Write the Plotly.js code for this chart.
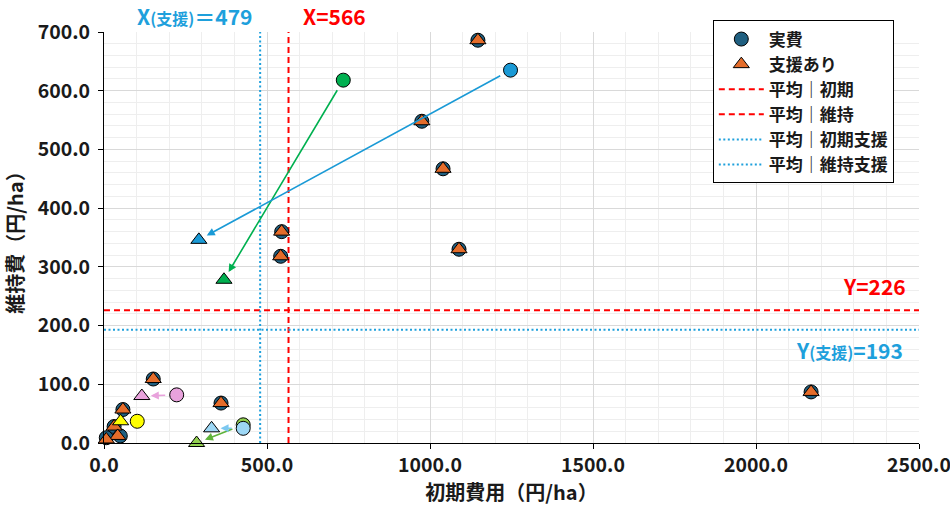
<!DOCTYPE html>
<html>
<head>
<meta charset="utf-8">
<script src="https://cdn.plot.ly/plotly-3.0.1.min.js"></script>
<style>html,body{margin:0;padding:0;background:#fff;}</style>
</head>
<body>
<div id="chart" style="width:950px;height:506px;"></div>
<script>
// ---- data ----
const realX = [1147, 975, 1040, 1089, 545, 542, 2169, 151, 359, 58, 31, 50, 7];
const realY = [686, 548, 467, 330, 360, 318, 87, 109, 68, 57, 28, 12, 9];
const supX  = [1147, 975, 1040, 1089, 545, 542, 2169, 151, 359, 58, 31, 42, 7];
const supY  = [686, 548, 467, 330, 360, 318, 87, 109, 68, 57, 28, 12, 6];

// highlighted pairs: actual (circle) -> with support (triangle)
const pairNames  = ['green', 'blue', 'pink', 'yellow', 'lightgreen', 'lightblue'];
const pairColors = ['#00b050', '#1a9ad6', '#e8a2dc', '#ffff00', '#92d050', '#9dd7f5'];
const arrowColors= ['#00b050', '#1a9ad6', '#e8a2dc', '#e6e600', '#5fb33a', '#7cc8f0'];
const circX = [734, 1247, 223, 102, 427, 427];
const circY = [618, 635, 82, 37, 31, 25];
const triX  = [368, 291, 116, 51, 284, 330];
const triY  = [278, 346, 80, 37, 0, 25];

const meanInit = 566, meanMaint = 226, meanInitSup = 479, meanMaintSup = 193;
const xRange = [0, 2500], yRange = [0, 700];

const names = ['実費', '支援あり', '平均｜初期', '平均｜維持', '平均｜初期支援', '平均｜維持支援'];
const xTitle = '初期費用（円/ha）';
const yTitle = '維持費（円/ha）';

const RED = '#ff0000', BLUE = '#1ea0dc';
const FONT = '"Noto Sans CJK JP", "Noto Sans", sans-serif';
const TXT = '#1a1a1a';

const traces = [
  {x: [meanInit, meanInit], y: yRange, mode: 'lines', name: names[2], legendrank: 3,
   line: {color: RED, width: 2, dash: '6px,4px'}, hoverinfo: 'skip'},
  {x: xRange, y: [meanMaint, meanMaint], mode: 'lines', name: names[3], legendrank: 4,
   line: {color: RED, width: 2, dash: '6px,4px'}, hoverinfo: 'skip'},
  {x: [meanInitSup, meanInitSup], y: yRange, mode: 'lines', name: names[4], legendrank: 5,
   line: {color: BLUE, width: 2, dash: '2px,2.5px'}, hoverinfo: 'skip'},
  {x: xRange, y: [meanMaintSup, meanMaintSup], mode: 'lines', name: names[5], legendrank: 6,
   line: {color: BLUE, width: 2, dash: '2px,2.5px'}, hoverinfo: 'skip'},
  {x: realX, y: realY, mode: 'markers', name: names[0], legendrank: 1, cliponaxis: false,
   marker: {symbol: 'circle', size: 14, color: '#1f5f80', line: {color: '#000', width: 1}}},
  {x: supX, y: supY, mode: 'markers', name: names[1], legendrank: 2, cliponaxis: false,
   marker: {symbol: 'triangle-up', size: 14, color: '#e46c2a', line: {color: '#000', width: 1}}},
  {x: circX, y: circY, mode: 'markers', showlegend: false, cliponaxis: false, text: pairNames,
   marker: {symbol: 'circle', size: 14, color: pairColors, line: {color: '#000', width: 1}}},
  {x: triX, y: triY, mode: 'markers', showlegend: false, cliponaxis: false, text: pairNames,
   marker: {symbol: 'triangle-up', size: 14, color: pairColors, line: {color: '#000', width: 1}}}
];

const annotations = [];
for (let i = 0; i < circX.length; i++) {
  annotations.push({
    x: triX[i], y: triY[i], ax: circX[i], ay: circY[i],
    xref: 'x', yref: 'y', axref: 'x', ayref: 'y',
    text: '', showarrow: true, arrowhead: 2, arrowsize: 1, arrowwidth: 1.6,
    arrowcolor: arrowColors[i], standoff: 9, startstandoff: 10
  });
}
const labFont = (c) => ({family: FONT, size: 21, color: c, weight: 'bold'});
annotations.push(
  {x: meanInitSup, y: 1, xref: 'x', yref: 'paper', xanchor: 'right', yanchor: 'bottom',
   xshift: -6, yshift: -1, showarrow: false,
   text: 'X<span style="font-size:16px">(支援)</span>＝' + meanInitSup, font: labFont(BLUE)},
  {x: meanInit, y: 1, xref: 'x', yref: 'paper', xanchor: 'left', yanchor: 'bottom',
   xshift: 12, yshift: -1, showarrow: false,
   text: 'X=' + meanInit, font: labFont(RED)},
  {x: 0.986, y: meanMaint, xref: 'paper', yref: 'y', xanchor: 'right', yanchor: 'bottom',
   yshift: 7, showarrow: false, text: 'Y=' + meanMaint, font: labFont(RED)},
  {x: 0.983, y: meanMaintSup, xref: 'paper', yref: 'y', xanchor: 'right', yanchor: 'top',
   yshift: -3, showarrow: false,
   text: 'Y<span style="font-size:16px">(支援)</span>=' + meanMaintSup, font: labFont(BLUE)}
);

const axisCommon = {
  showline: true, linecolor: '#000', linewidth: 1,
  ticks: 'outside', ticklen: 5, tickcolor: '#000', tickwidth: 1,
  gridcolor: '#d9d9d9', gridwidth: 1, zeroline: false,
  tickformat: '.1f', tickfont: {family: FONT, size: 19.5, color: TXT, weight: 'bold'},
  ticklabeloverflow: 'allow',
  fixedrange: true
};

const layout = {
  width: 950, height: 506,
  margin: {l: 104, r: 31, t: 32, b: 63},
  paper_bgcolor: '#fff', plot_bgcolor: '#fff',
  font: {family: FONT, size: 16, color: TXT, weight: 'bold'},
  xaxis: Object.assign({}, axisCommon, {
    range: xRange, dtick: 500, automargin: false,
    minor: {dtick: 100, showgrid: true, gridcolor: '#eeeeee', gridwidth: 1},
    title: {text: xTitle, font: {family: FONT, size: 20, color: TXT, weight: 'bold'}, standoff: 6}
  }),
  yaxis: Object.assign({}, axisCommon, {
    range: yRange, dtick: 100, automargin: false, ticklabelstandoff: 4,
    minor: {dtick: 20, showgrid: true, gridcolor: '#eeeeee', gridwidth: 1},
    title: {text: yTitle, font: {family: FONT, size: 20, color: TXT, weight: 'bold'}, standoff: 12}
  }),
  legend: {
    x: 0.747, y: 1.028, xanchor: 'left', yanchor: 'top',
    bgcolor: '#fff', bordercolor: '#000', borderwidth: 1,
    font: {family: FONT, size: 17, color: TXT, weight: 'bold'},
    tracegroupgap: 0, itemwidth: 45
  },
  annotations: annotations,
  showlegend: true
};

Plotly.newPlot('chart', traces, layout, {displayModeBar: false, staticPlot: true});
</script>
</body>
</html>
